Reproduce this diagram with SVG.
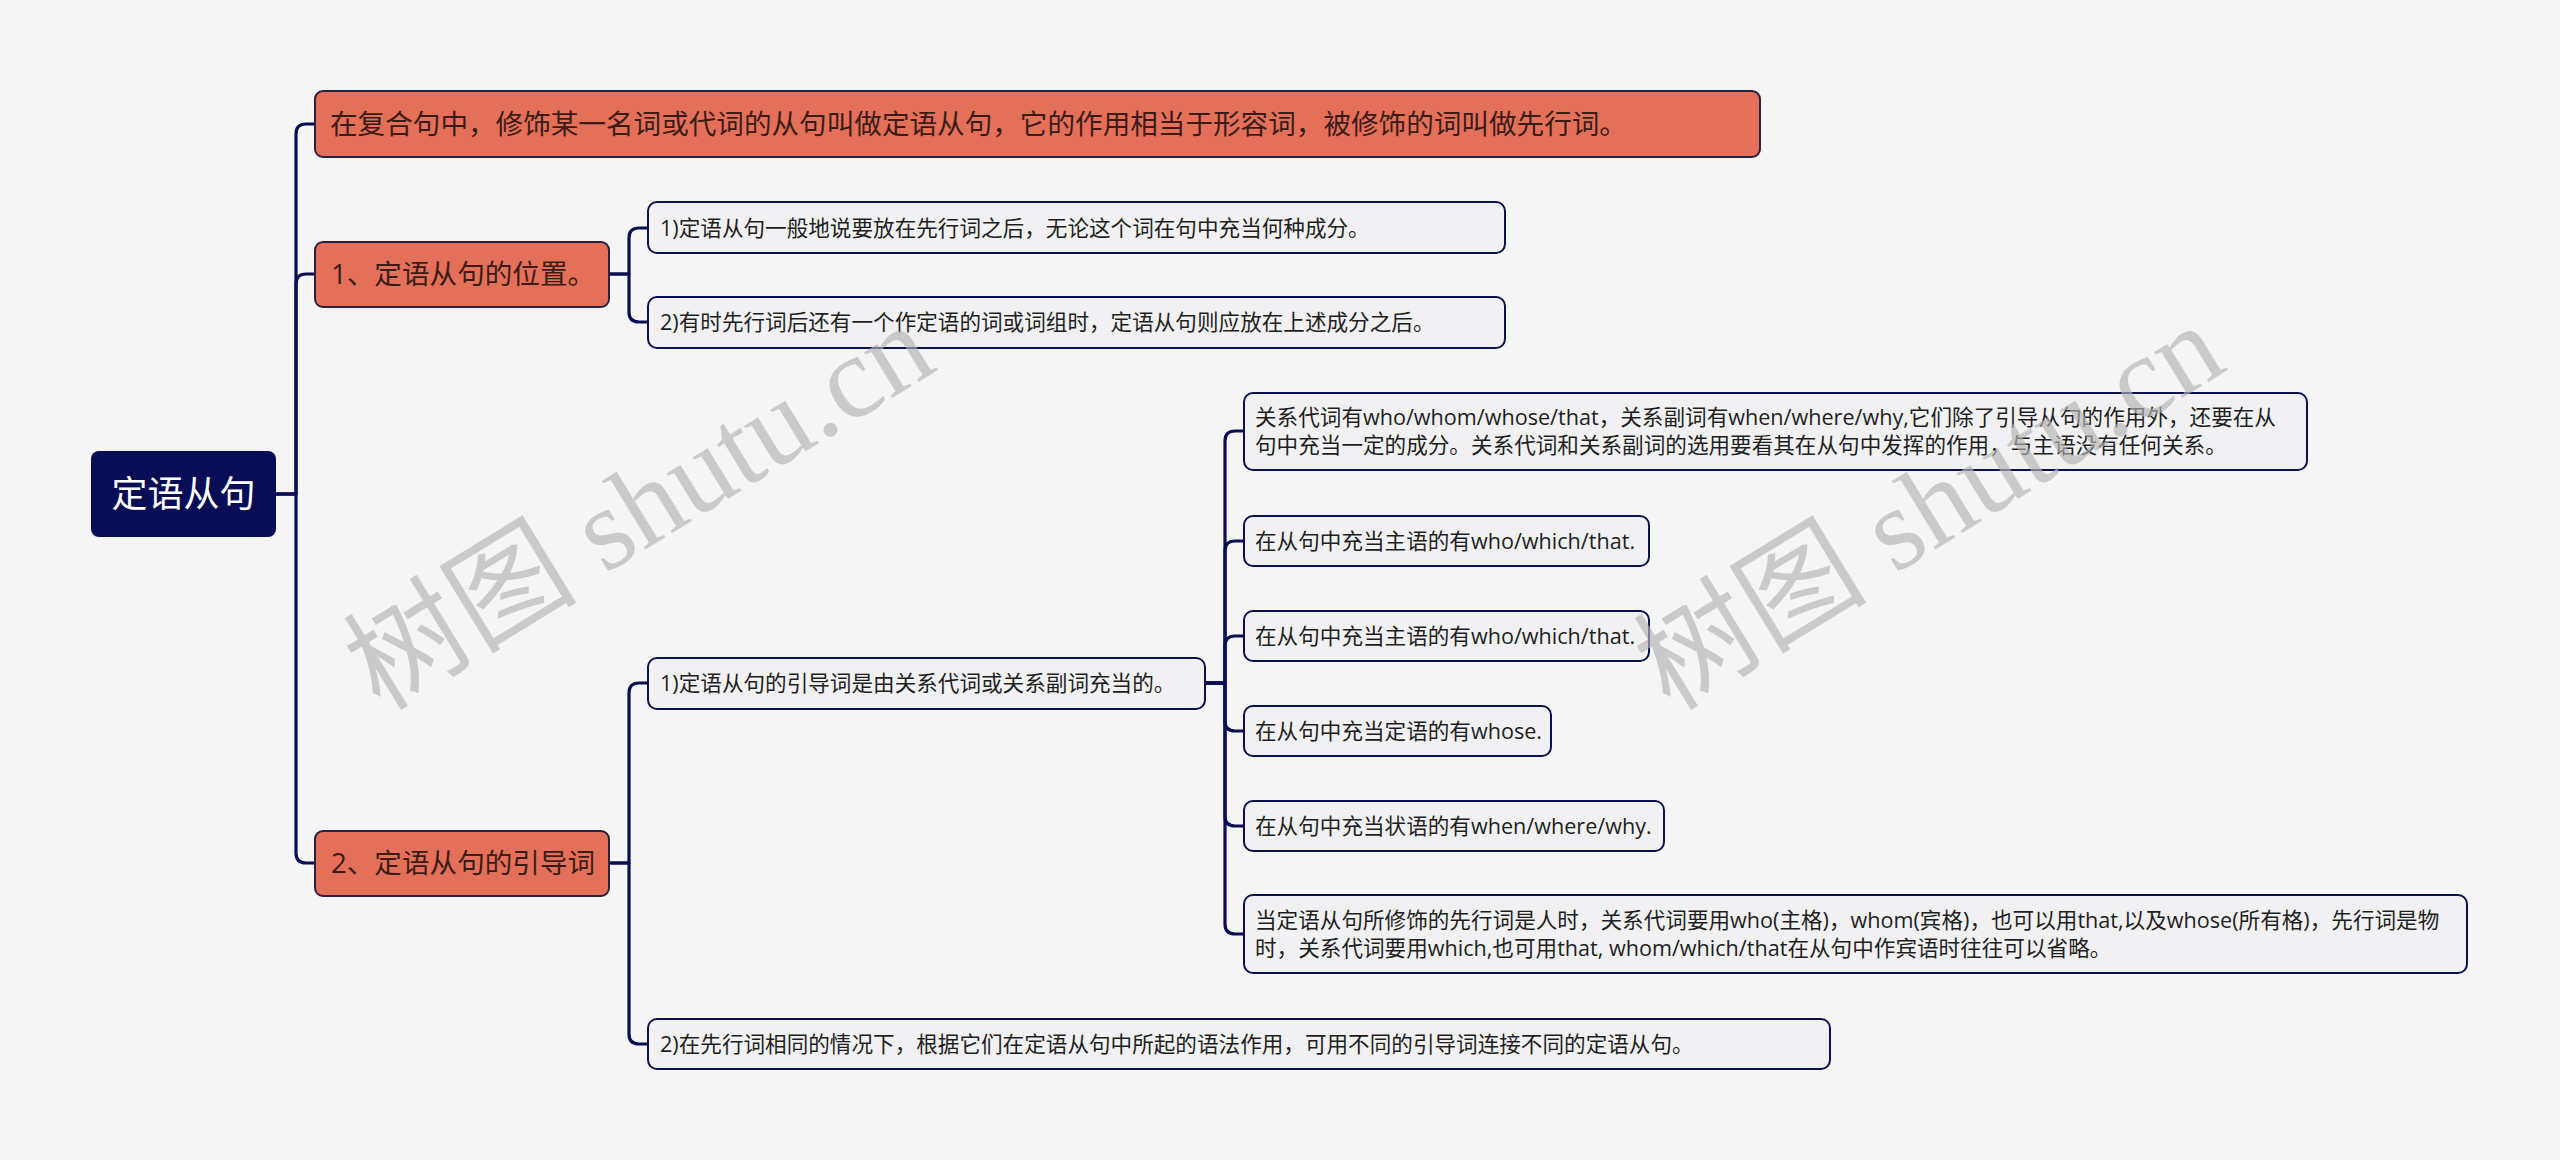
<svg xmlns="http://www.w3.org/2000/svg" width="2560" height="1160" viewBox="0 0 2560 1160">
<style>
.bg{fill:#f5f5f5}
.conn path{fill:none;stroke:#0a0f55;stroke-width:3.2;stroke-linejoin:round}
.root rect{fill:#080d55}
.root text{fill:#ffffff;font-size:36px}
.main rect{fill:#e5705a;stroke:#2a2040;stroke-width:2}
.main text{fill:#3a1c16;font-size:27.6px}
.leaf rect{fill:#f1f1f3;stroke:#0d1150;stroke-width:2}
.leaf text{fill:#1e1e1e;font-size:21.6px}
text{font-family:"Open Sans","Noto Sans CJK SC",sans-serif}
.wm{font-family:"Liberation Serif","Noto Sans CJK SC",serif;font-size:117px;fill:#b4b4b4;opacity:0.65}
</style>
<rect class="bg" x="0" y="0" width="2560" height="1160"/>

<g id="connectors" class="conn">
<path d="M276,494 H296 V134 Q296,124 306,124 H315"/>
<path d="M276,494 H296 V284 Q296,274 306,274 H315"/>
<path d="M276,494 H296 V853 Q296,863 306,863 H315"/>
<path d="M609,274 H629 V238 Q629,228 639,228 H648"/>
<path d="M609,274 H629 V312 Q629,322 639,322 H648"/>
<path d="M609,863 H629 V693 Q629,683 639,683 H648"/>
<path d="M609,863 H629 V1034 Q629,1044 639,1044 H648"/>
<path d="M1205,683 H1225 V441 Q1225,431 1235,431 H1244"/>
<path d="M1205,683 H1225 V551 Q1225,541 1235,541 H1244"/>
<path d="M1205,683 H1225 V646 Q1225,636 1235,636 H1244"/>
<path d="M1205,683 H1225 V721 Q1225,731 1235,731 H1244"/>
<path d="M1205,683 H1225 V816 Q1225,826 1235,826 H1244"/>
<path d="M1205,683 H1225 V924 Q1225,934 1235,934 H1244"/>
</g>

<g id="root" class="root">
<rect x="91" y="451" width="185" height="86" rx="8"/>
<text x="183.5" y="507" text-anchor="middle">定语从句</text>
</g>

<g id="n-def" class="main">
<rect x="315" y="91" width="1445" height="66" rx="8"/>
<text x="330" y="133.5">在复合句中，修饰某一名词或代词的从句叫做定语从句，它的作用相当于形容词，被修饰的词叫做先行词。</text>
</g>

<g id="n-pos" class="main">
<rect x="315" y="242" width="294" height="65" rx="8"/>
<text x="331" y="284">1、定语从句的位置。</text>
</g>

<g id="n-lead" class="main">
<rect x="315" y="831" width="294" height="65" rx="8"/>
<text x="331" y="873">2、定语从句的引导词</text>
</g>

<g id="n-pos-1" class="leaf">
<rect x="648" y="202" width="857" height="51" rx="9"/>
<text x="660" y="235.5">1)定语从句一般地说要放在先行词之后，无论这个词在句中充当何种成分。</text>
</g>

<g id="n-pos-2" class="leaf">
<rect x="648" y="297" width="857" height="51" rx="9"/>
<text x="660" y="329.5">2)有时先行词后还有一个作定语的词或词组时，定语从句则应放在上述成分之后。</text>
</g>

<g id="n-lead-1" class="leaf">
<rect x="648" y="658" width="557" height="51" rx="9"/>
<text x="660" y="690.5">1)定语从句的引导词是由关系代词或关系副词充当的。</text>
</g>

<g id="n-lead-2" class="leaf">
<rect x="648" y="1019" width="1182" height="50" rx="9"/>
<text x="660" y="1051.5">2)在先行词相同的情况下，根据它们在定语从句中所起的语法作用，可用不同的引导词连接不同的定语从句。</text>
</g>

<g id="n-rel" class="leaf">
<rect x="1244" y="393" width="1063" height="77" rx="9"/>
<text x="1255" y="424.5">关系代词有who/whom/whose/that，关系副词有when/where/why,它们除了引导从句的作用外，还要在从</text>
<text x="1255" y="452.5">句中充当一定的成分。关系代词和关系副词的选用要看其在从句中发挥的作用，与主语没有任何关系。</text>
</g>

<g id="n-subj-1" class="leaf">
<rect x="1244" y="516" width="405" height="50" rx="9"/>
<text x="1255" y="548.5">在从句中充当主语的有who/which/that.</text>
</g>

<g id="n-subj-2" class="leaf">
<rect x="1244" y="611" width="405" height="50" rx="9"/>
<text x="1255" y="643.5">在从句中充当主语的有who/which/that.</text>
</g>

<g id="n-attr" class="leaf">
<rect x="1244" y="706" width="307" height="50" rx="9"/>
<text x="1255" y="738.5">在从句中充当定语的有whose.</text>
</g>

<g id="n-adv" class="leaf">
<rect x="1244" y="801" width="420" height="50" rx="9"/>
<text x="1255" y="833.5">在从句中充当状语的有when/where/why.</text>
</g>

<g id="n-person" class="leaf">
<rect x="1244" y="895" width="1223" height="78" rx="9"/>
<text x="1255" y="927.5">当定语从句所修饰的先行词是人时，关系代词要用who(主格)，whom(宾格)，也可以用that,以及whose(所有格)，先行词是物</text>
<text x="1255" y="955.5">时，关系代词要用which,也可用that, whom/which/that在从句中作宾语时往往可以省略。</text>
</g>

<text class="wm" transform="translate(380,712) rotate(-31.5)">树图 shutu.cn</text>
<text class="wm" transform="translate(1670,712) rotate(-31.5)">树图 shutu.cn</text>
</svg>
